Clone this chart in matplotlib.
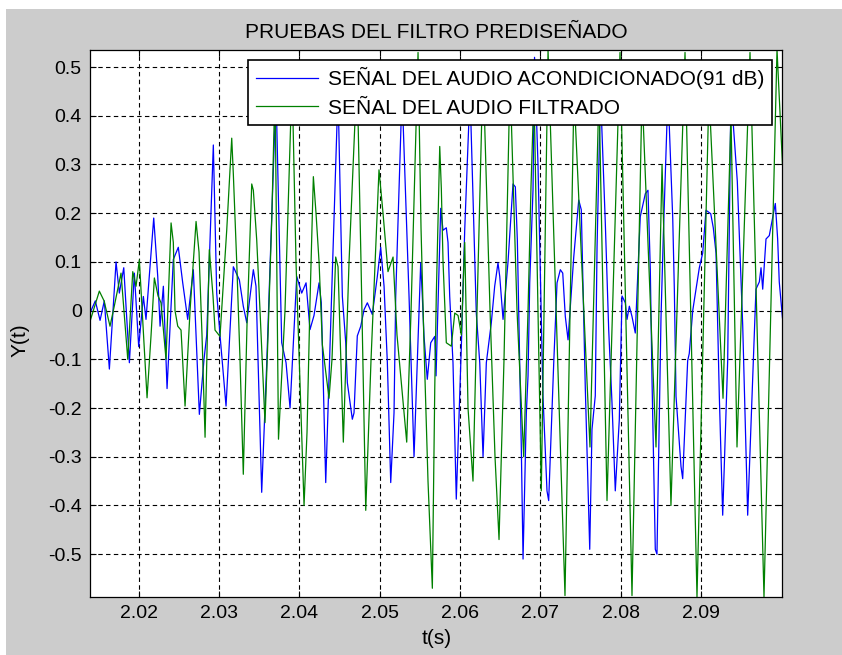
import numpy as np
import matplotlib
matplotlib.use("Agg")
import matplotlib.pyplot as plt
from matplotlib.patches import Rectangle

plt.rcParams['font.family'] = ['Liberation Sans', 'DejaVu Sans']
plt.rcParams['axes.unicode_minus'] = False

# conditioned audio (blue): time in s, amplitude
t_audio = [2.01396, 2.01462, 2.01521, 2.01574, 2.01637, 2.0172, 2.01761, 2.01816, 2.01886, 2.01948,
           2.02002, 2.0206, 2.02093, 2.02189, 2.02239, 2.02268, 2.02309, 2.02355, 2.02433, 2.02495,
           2.0255, 2.02612, 2.02682, 2.02757, 2.02815, 2.02849, 2.0289, 2.02931, 2.02973, 2.03014,
           2.03089, 2.0318, 2.03255, 2.03304, 2.03347, 2.03429, 2.03462, 2.03533, 2.03596, 2.03711,
           2.03782, 2.03836, 2.03886, 2.03969, 2.04031, 2.04085, 2.04134, 2.04184, 2.04247, 2.04275,
           2.0433, 2.04483, 2.04537, 2.04579, 2.04599, 2.04661, 2.04682, 2.04723, 2.04766, 2.04807,
           2.04848, 2.0491, 2.04972, 2.05014, 2.05056, 2.05097, 2.05139, 2.0518, 2.05201, 2.0528,
           2.05367, 2.05429, 2.05512, 2.05532, 2.05553, 2.05594, 2.05637, 2.05687, 2.05703, 2.05761,
           2.0579, 2.05831, 2.05852, 2.05873, 2.05914, 2.05955, 2.06018, 2.0606, 2.06126, 2.06163,
           2.06204, 2.06247, 2.06288, 2.06329, 2.06391, 2.06433, 2.06474, 2.06496, 2.06537, 2.06599,
           2.06661, 2.0669, 2.06715, 2.06764, 2.06786, 2.06827, 2.06848, 2.06869, 2.0691, 2.06929,
           2.06972, 2.07034, 2.07084, 2.07105, 2.07168, 2.07209, 2.0725, 2.0728, 2.07312, 2.07346,
           2.07417, 2.07479, 2.07511, 2.0752, 2.07561, 2.07616, 2.07644, 2.07685, 2.07707, 2.0775,
           2.0781, 2.07852, 2.07893, 2.07934, 2.07984, 2.08018, 2.08059, 2.0808, 2.08109, 2.08142,
           2.08183, 2.08245, 2.08308, 2.08341, 2.0837, 2.08391, 2.08432, 2.08453, 2.08503, 2.08532,
           2.0859, 2.08649, 2.08669, 2.0869, 2.08752, 2.08773, 2.08835, 2.08855, 2.08898, 2.08939,
           2.0898, 2.09022, 2.09042, 2.09063, 2.09122, 2.09154, 2.09188, 2.09229, 2.09271, 2.09333,
           2.09374, 2.09453, 2.0952, 2.09582, 2.09685, 2.09727, 2.09748, 2.09769, 2.0981, 2.09851,
           2.09893, 2.09926, 2.09955, 2.09975, 2.10015]
y_audio = [-0.005, 0.02, -0.02, 0.02, -0.12, 0.1, 0.036, 0.088, -0.107, 0.077,
           -0.074, 0.029, -0.018, 0.19, 0.07, -0.032, 0.05, -0.16, 0.105, 0.13,
           0.057, -0.018, 0.084, -0.213, -0.1, -0.05, 0.145, 0.34, 0.036, -0.05,
           -0.196, 0.09, 0.063, 0.009, -0.025, 0.084, 0.05, -0.373, -0.107, 0.45,
           -0.066, -0.107, -0.2, 0.07, 0.036, 0.057, -0.039, -0.01, 0.057, 0.016,
           -0.353, 0.45, 0.029, -0.066, -0.148, -0.223, -0.21, -0.052, -0.032, 0.002,
           0.016, -0.008, 0.07, 0.13, 0.05, -0.107, -0.353, -0.21, 0.029, 0.45,
           0.029, -0.3, 0.098, 0.03, -0.052, -0.141, -0.066, -0.053, -0.134, 0.21,
           0.165, 0.17, 0.14, 0.03, -0.107, -0.387, -0.073, 0.166, 0.45, 0.234,
           -0.005, -0.107, -0.3, -0.107, -0.025, 0.05, 0.098, 0.07, -0.018, 0.1,
           0.26, 0.254, 0.145, -0.278, -0.51, -0.21, -0.134, 0.057, 0.248, 0.52,
           0.3, -0.175, -0.37, -0.39, -0.107, 0.057, 0.084, 0.077, -0.012, -0.06,
           0.11, 0.227, 0.207, 0.14, -0.16, -0.49, -0.244, -0.175, 0.13, 0.45,
           0.179, -0.039, -0.189, -0.37, -0.224, 0.03, 0.016, -0.018, 0.009, -0.012,
           -0.046, 0.193, 0.24, 0.247, 0.084, -0.14, -0.49, -0.5, -0.015, 0.154,
           0.45, 0.19, 0.044, -0.176, -0.32, -0.345, -0.103, -0.088, 0.0, 0.044,
           0.088, 0.118, 0.162, 0.206, 0.199, 0.17, 0.118, -0.176, -0.42, -0.103,
           0.45, 0.265, -0.03, -0.42, 0.044, 0.059, 0.088, 0.044, 0.147, 0.154,
           0.191, 0.22, 0.147, 0.059, -0.015]

# filtered audio (green)
t_filt = [2.01396, 2.01512, 2.01571, 2.01645, 2.01699, 2.01782, 2.01866, 2.01928, 2.01969, 2.0201,
          2.02106, 2.02156, 2.02197, 2.02243, 2.0228, 2.02342, 2.02405, 2.02433, 2.02454, 2.02488,
          2.02529, 2.02579, 2.02641, 2.02716, 2.02753, 2.0279, 2.02828, 2.02881, 2.02927, 2.02952,
          2.03014, 2.03098, 2.0316, 2.0318, 2.03222, 2.03263, 2.03304, 2.0335, 2.03409, 2.03429,
          2.03471, 2.03512, 2.03574, 2.03612, 2.03658, 2.03699, 2.03742, 2.03823, 2.03911, 2.0396,
          2.0401, 2.0406, 2.04097, 2.04134, 2.04176, 2.04209, 2.04247, 2.04288, 2.04371, 2.04408,
          2.04454, 2.04483, 2.04549, 2.0462, 2.0472, 2.04769, 2.04828, 2.04894, 2.04993, 2.05043,
          2.05105, 2.05168, 2.05217, 2.05338, 2.05392, 2.05479, 2.05516, 2.05553, 2.05603, 2.05657,
          2.05687, 2.05706, 2.05749, 2.05769, 2.0579, 2.05831, 2.05893, 2.05936, 2.05977, 2.06018,
          2.0606, 2.06101, 2.06163, 2.06213, 2.06288, 2.06375, 2.06437, 2.06487, 2.06549, 2.06624,
          2.06711, 2.06794, 2.06848, 2.06885, 2.06922, 2.07013, 2.07097, 2.07308, 2.0742, 2.07619,
          2.07731, 2.07831, 2.07993, 2.08142, 2.08267, 2.08441, 2.08516, 2.08627, 2.08802, 2.08951,
          2.091, 2.09275, 2.09374, 2.09449, 2.09611, 2.09785, 2.09947, 2.10015]
y_filt = [-0.022, 0.04, 0.02, -0.032, 0.01, 0.077, -0.1, 0.08, 0.05, 0.104,
          -0.179, -0.05, 0.067, 0.03, 0.016, -0.1, 0.18, 0.14, 0.0, -0.032,
          -0.04, -0.196, 0.0, 0.183, 0.12, -0.05, -0.26, 0.125, 0.03, -0.04,
          -0.053, 0.166, 0.354, 0.28, 0.1, -0.1, -0.336, -0.03, 0.26, 0.247,
          0.145, 0.0, -0.23, -0.05, 0.186, 0.46, -0.264, 0.0, 0.48, 0.1,
          -0.15, -0.4, -0.25, 0.016, 0.275, 0.2, 0.1, -0.07, -0.18, -0.1,
          0.11, 0.09, -0.27, 0.1, 0.49, 0.1, -0.41, -0.1, 0.289, 0.2,
          0.08, 0.11, -0.05, -0.27, 0.0, 0.53, 0.17, -0.07, -0.35, -0.57,
          -0.16, 0.03, 0.337, 0.25, 0.1, -0.066, -0.073, -0.005, -0.01, -0.05,
          0.14, -0.2, -0.35, 0.0, 0.5, 0.0, -0.3, -0.47, -0.1, 0.48,
          0.0, -0.3, 0.0, 0.255, 0.45, -0.37, 0.535, -0.585, 0.45, -0.28,
          0.45, -0.39, 0.53, -0.585, 0.45, -0.28, 0.3, -0.4, 0.53, -0.588,
          0.45, -0.18, 0.4, -0.28, 0.53, -0.588, 0.536, 0.3]

xticks = [2.02, 2.03, 2.04, 2.05, 2.06, 2.07, 2.08, 2.09]
yticks = [-0.5, -0.4, -0.3, -0.2, -0.1, 0, 0.1, 0.2, 0.3, 0.4, 0.5]

fig = plt.figure(figsize=(8.42, 6.55), dpi=100, facecolor='white')
fig.patches.append(Rectangle((6 / 842, 0), 1, 1 - 9 / 655, transform=fig.transFigure,
                             facecolor='#cccccc', edgecolor='none', zorder=-10))

ax = fig.add_axes([0.1069, 0.0885, 0.8224, 0.8359])
ax.set_facecolor('white')
ax.plot(t_audio, y_audio, color='#0000ff', lw=0.9, label='SEÑAL DEL AUDIO ACONDICIONADO(91 dB)')
ax.plot(t_filt, y_filt, color='#008000', lw=0.9, label='SEÑAL DEL AUDIO FILTRADO')

# axis tight
ax.set_xlim(min(t_audio + t_filt), max(t_audio + t_filt))
ax.set_ylim(min(y_audio + y_filt), max(y_audio + y_filt))

ax.set_xticks(xticks)
ax.set_xticklabels(['%.2f' % v for v in xticks])
ax.set_yticks(yticks)
ax.set_yticklabels(['0' if v == 0 else '%g' % v for v in yticks])
ax.tick_params(direction='in', length=4.5, width=0.8, top=True, right=True,
               labelsize=14, pad=6, colors='black')
ax.grid(True, color='black', lw=0.8, linestyle=(0, (4, 3)))
for s in ax.spines.values():
    s.set_linewidth(0.9)

ax.set_title('PRUEBAS DEL FILTRO PREDISEÑADO', fontsize=15, pad=8)
ax.set_xlabel('t(s)', fontsize=15)
ax.set_ylabel('Y(t)', fontsize=15)
ax.xaxis.set_label_coords(0.5, -0.058)
ax.yaxis.set_label_coords(-0.088, 0.47)

leg = ax.legend(loc='upper right', bbox_to_anchor=(0.985, 0.981), fontsize=15,
                fancybox=False, framealpha=1, edgecolor='black', handlelength=3.0,
                borderpad=0.35, labelspacing=0.45, handletextpad=0.5, borderaxespad=0)
leg.get_frame().set_linewidth(1.2)

fig.savefig('out.png', dpi=100, facecolor=fig.get_facecolor())
